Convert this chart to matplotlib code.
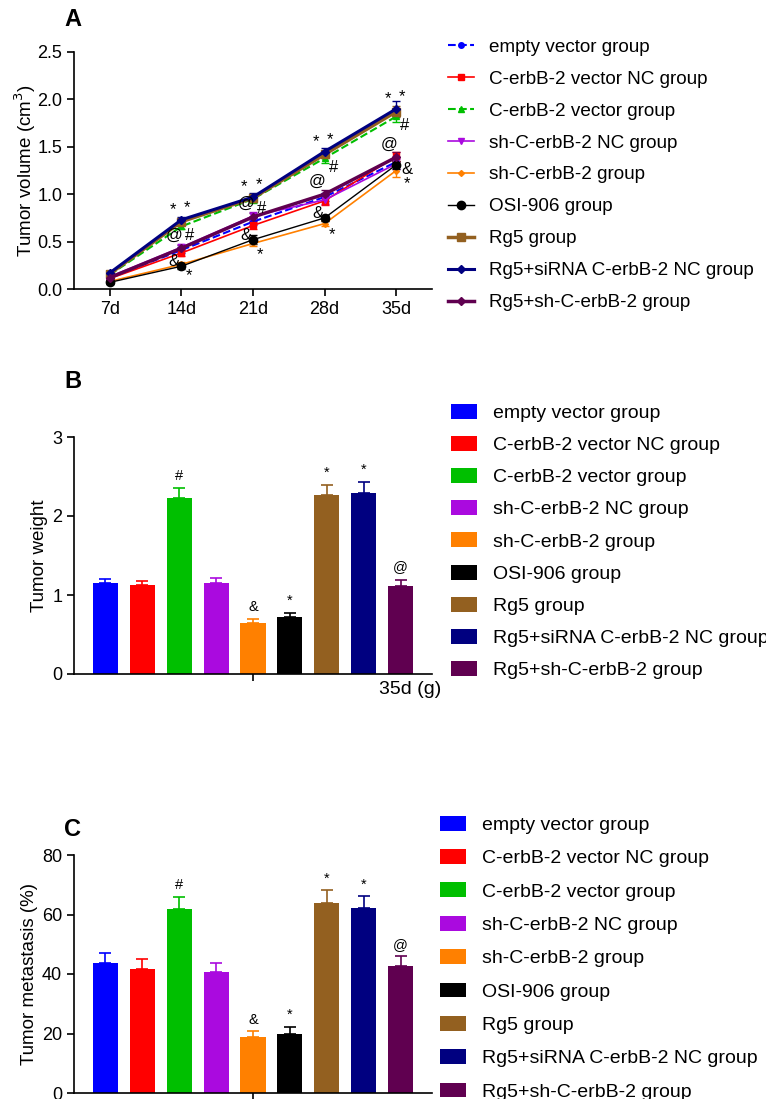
import matplotlib
matplotlib.use("Agg")
import matplotlib.pyplot as plt
import numpy as np

plt.rcParams['font.family'] = ['Liberation Sans', 'DejaVu Sans']

groups = ["empty vector group", "C-erbB-2 vector NC group", "C-erbB-2 vector group",
          "sh-C-erbB-2 NC group", "sh-C-erbB-2 group", "OSI-906 group", "Rg5 group",
          "Rg5+siRNA C-erbB-2 NC group", "Rg5+sh-C-erbB-2 group"]
colors = ["#0000FF", "#FF0000", "#00BF00", "#AA0ADF", "#FF8000", "#000000",
          "#936020", "#000080", "#600050"]

days = ["7d", "14d", "21d", "28d", "35d"]

# tumor volume (cm3) per group over days
vol = [
    [0.12, 0.41, 0.71, 0.97, 1.34],
    [0.11, 0.38, 0.67, 0.93, 1.40],
    [0.15, 0.66, 0.95, 1.38, 1.82],
    [0.13, 0.44, 0.77, 0.94, 1.32],
    [0.08, 0.26, 0.48, 0.69, 1.25],
    [0.07, 0.24, 0.52, 0.75, 1.31],
    [0.16, 0.71, 0.96, 1.42, 1.87],
    [0.17, 0.73, 0.97, 1.45, 1.90],
    [0.12, 0.43, 0.76, 1.00, 1.39],
]
vol_err = [
    [0.02, 0.03, 0.04, 0.04, 0.05],
    [0.02, 0.03, 0.04, 0.04, 0.05],
    [0.02, 0.03, 0.04, 0.05, 0.06],
    [0.02, 0.03, 0.04, 0.04, 0.05],
    [0.02, 0.03, 0.03, 0.03, 0.07],
    [0.02, 0.03, 0.05, 0.03, 0.04],
    [0.02, 0.03, 0.04, 0.04, 0.06],
    [0.02, 0.03, 0.04, 0.04, 0.08],
    [0.02, 0.03, 0.04, 0.04, 0.05],
]

weight = [1.15, 1.13, 2.23, 1.15, 0.65, 0.72, 2.27, 2.29, 1.12]
weight_err = [0.05, 0.05, 0.12, 0.07, 0.04, 0.05, 0.12, 0.14, 0.07]
weight_marks = ["", "", "#", "", "&", "*", "*", "*", "@"]

meta = [43.7, 41.7, 61.7, 40.7, 18.7, 19.8, 63.8, 62.1, 42.8]
meta_err = [3.2, 3.3, 4.3, 3.1, 2.1, 2.5, 4.3, 4.2, 3.2]
meta_marks = ["", "", "#", "", "&", "*", "*", "*", "@"]

line_styles = ["--", "-", "--", "-", "-", "-", "-", "-", "-"]
markers = ["o", "s", "^", "v", "D", "o", "s", "D", "D"]
msizes = [4, 4, 4, 4, 3, 6, 6, 4, 4]
lwidths = [1.5, 1.2, 1.5, 1.2, 1.2, 1.0, 2.5, 2.2, 2.5]

W, H = 766, 1099
fig = plt.figure(figsize=(W / 100, H / 100), dpi=100)


def box(l, r, t, b):
    return [l / W, 1 - b / H, (r - l) / W, (b - t) / H]


def style(ax):
    for s in ["top", "right"]:
        ax.spines[s].set_visible(False)
    ax.spines["left"].set_linewidth(1.2)
    ax.spines["bottom"].set_linewidth(1.2)
    ax.tick_params(direction="out", length=5, width=1.2, labelsize=13)


# ---- Panel A ----
axA = fig.add_axes(box(74, 432, 52, 289))
x = np.arange(len(days))
handles = []
for i in range(len(groups)):
    axA.errorbar(x, vol[i], yerr=vol_err[i], color=colors[i], ls="none", capsize=3,
                 elinewidth=1, zorder=2)
    h, = axA.plot(x, vol[i], color=colors[i], ls=line_styles[i], marker=markers[i],
                  ms=msizes[i], lw=lwidths[i], zorder=3)
    handles.append(h)
axA.set_xlim(-0.5, 4.5)
axA.set_ylim(0, 2.5)
axA.set_yticks([0, 0.5, 1.0, 1.5, 2.0, 2.5])
axA.set_yticklabels(["0.0", "0.5", "1.0", "1.5", "2.0", "2.5"])
axA.set_xticks(x)
axA.set_xticklabels(days)
axA.set_ylabel("Tumor volume (cm$^3$)", fontsize=13.5, labelpad=-1)
style(axA)

fs = 12
for d in range(1, 5):
    nv = vol[7][d]
    axA.text(d - 0.12, nv + 0.03, "*", ha="center", va="bottom", fontsize=fs)
    axA.text(d + 0.08, nv + 0.05, "*", ha="center", va="bottom", fontsize=fs)
    axA.text(d + 0.12, vol[2][d] - 0.02, "#", ha="center", va="top", fontsize=fs)
    axA.text(d - 0.1, vol[8][d] + 0.06, "@", ha="center", va="bottom", fontsize=fs)
    if d < 4:
        axA.text(d - 0.1, vol[5][d] - 0.03, "&", ha="center", va="bottom", fontsize=fs)
        axA.text(d + 0.1, vol[4][d] - 0.04, "*", ha="center", va="top", fontsize=fs)
    else:
        axA.text(d + 0.15, vol[4][d] + 0.01, "&", ha="center", va="center", fontsize=fs)
        axA.text(d + 0.15, vol[4][d] - 0.14, "*", ha="center", va="center", fontsize=fs)

fig.text(64 / W, 1 - 20 / H, "A", fontsize=17, fontweight="bold", va="center")

axA.legend(handles, groups, loc="upper left", bbox_to_anchor=(439 / W, 1 - 29 / H),
           bbox_transform=fig.transFigure, frameon=False, fontsize=13.6,
           handlelength=1.35, handletextpad=0.8, labelspacing=0.78, borderpad=0)

# ---- Panel B ----
bx = np.arange(len(groups))
axB = fig.add_axes(box(74, 432, 437, 674))
bars = axB.bar(bx, weight, width=0.68, color=colors, zorder=2)
for i in range(len(groups)):
    axB.errorbar(bx[i], weight[i], yerr=[[0], [weight_err[i]]], color=colors[i],
                 capsize=4, elinewidth=1.2, capthick=1.2, zorder=1)
    if weight_marks[i]:
        axB.text(bx[i], weight[i] + weight_err[i] + 0.07, weight_marks[i], ha="center",
                 va="bottom", fontsize=10.5)
axB.set_xlim(-0.85, 8.85)
axB.set_ylim(0, 3)
axB.set_yticks([0, 1, 2, 3])
axB.set_xticks([4])
axB.set_xticklabels([""])
axB.set_ylabel("Tumor weight", fontsize=13.5, labelpad=3)
style(axB)
fig.text(379 / W, 1 - 690 / H, "35d (g)", fontsize=14, va="center")
fig.text(64 / W, 1 - 381 / H, "B", fontsize=17, fontweight="bold", va="center")
axB.legend(bars, groups, loc="upper left", bbox_to_anchor=(441 / W, 1 - 394 / H),
           bbox_transform=fig.transFigure, frameon=False, fontsize=14,
           handlelength=1.35, handleheight=0.8, handletextpad=0.8, labelspacing=0.72,
           borderpad=0)

# ---- Panel C ----
axC = fig.add_axes(box(74, 432, 855, 1093))
bars = axC.bar(bx, meta, width=0.68, color=colors, zorder=2)
for i in range(len(groups)):
    axC.errorbar(bx[i], meta[i], yerr=[[0], [meta_err[i]]], color=colors[i],
                 capsize=4, elinewidth=1.2, capthick=1.2, zorder=1)
    if meta_marks[i]:
        axC.text(bx[i], meta[i] + meta_err[i] + 1.5, meta_marks[i], ha="center",
                 va="bottom", fontsize=10.5)
axC.set_xlim(-0.85, 8.85)
axC.set_ylim(0, 80)
axC.set_yticks([0, 20, 40, 60, 80])
axC.set_xticks([4])
axC.set_xticklabels([""])
axC.set_ylabel("Tumor metastasis (%)", fontsize=13.5, labelpad=2.5)
style(axC)
fig.text(64 / W, 1 - 830 / H, "C", fontsize=17, fontweight="bold", va="center")
axC.legend(bars, groups, loc="upper left", bbox_to_anchor=(430 / W, 1 - 806 / H),
           bbox_transform=fig.transFigure, frameon=False, fontsize=14,
           handlelength=1.35, handleheight=0.8, handletextpad=0.85, labelspacing=0.78,
           borderpad=0)

fig.savefig("out.png", dpi=100)
